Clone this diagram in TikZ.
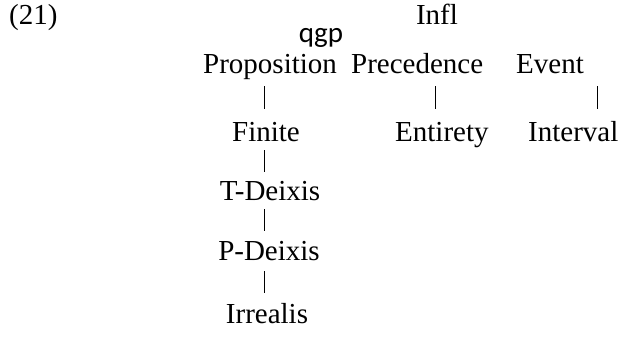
\documentclass[tikz,border=0pt]{standalone}
\usepackage{fontspec}
\setmainfont{Liberation Serif}
\newfontfamily\calib{Carlito}
\begin{document}
\begin{tikzpicture}[x=1pt,y=-1pt,
  lbl/.style={inner sep=0pt,anchor=base,font=\fontsize{29}{34}\selectfont},
  lblw/.style={lbl,anchor=base west},
  bar/.style 2 args={line width=0.9pt,shorten <=#1pt,shorten >=#2pt}]
\useasboundingbox (0,0) rectangle (619,356);
\node[lblw] (num) at (9,24) {(21)};
\node[lbl] (infl) at (437,24) {Infl};
\node[lbl,font=\calib\fontsize{29}{34}\selectfont] (qgp) at (321,42) {qgp};
\node[lblw] (prop) at (203,73) {Proposition};
\node[lblw] (prec) at (351,73) {Precedence};
\node[lblw] (event) at (516,73) {Event};
\node[lbl] (fin) at (266,141) {Finite};
\node[lblw] (ent) at (395,141) {Entirety};
\node[lblw] (intv) at (528,141) {Interval};
\node[lbl] (tdx) at (270,200) {T-Deixis};
\node[lbl] (pdx) at (269,260) {P-Deixis};
\node[lbl] (irr) at (267,323) {Irrealis};
\coordinate (c1) at (264,0);
\coordinate (c2) at (435,0);
\coordinate (c3) at (597,0);
\draw[bar={13}{32}] (prop.base -| c1) -- (fin.base -| c1);
\draw[bar={9}{28}] (fin.base -| c1) -- (tdx.base -| c1);
\draw[bar={9}{29}] (tdx.base -| c1) -- (pdx.base -| c1);
\draw[bar={11}{30}] (pdx.base -| c1) -- (irr.base -| c1);
\draw[bar={13}{32}] (prec.base -| c2) -- (ent.base -| c2);
\draw[bar={13}{32}] (event.base -| c3) -- (intv.base -| c3);
\end{tikzpicture}
\end{document}
